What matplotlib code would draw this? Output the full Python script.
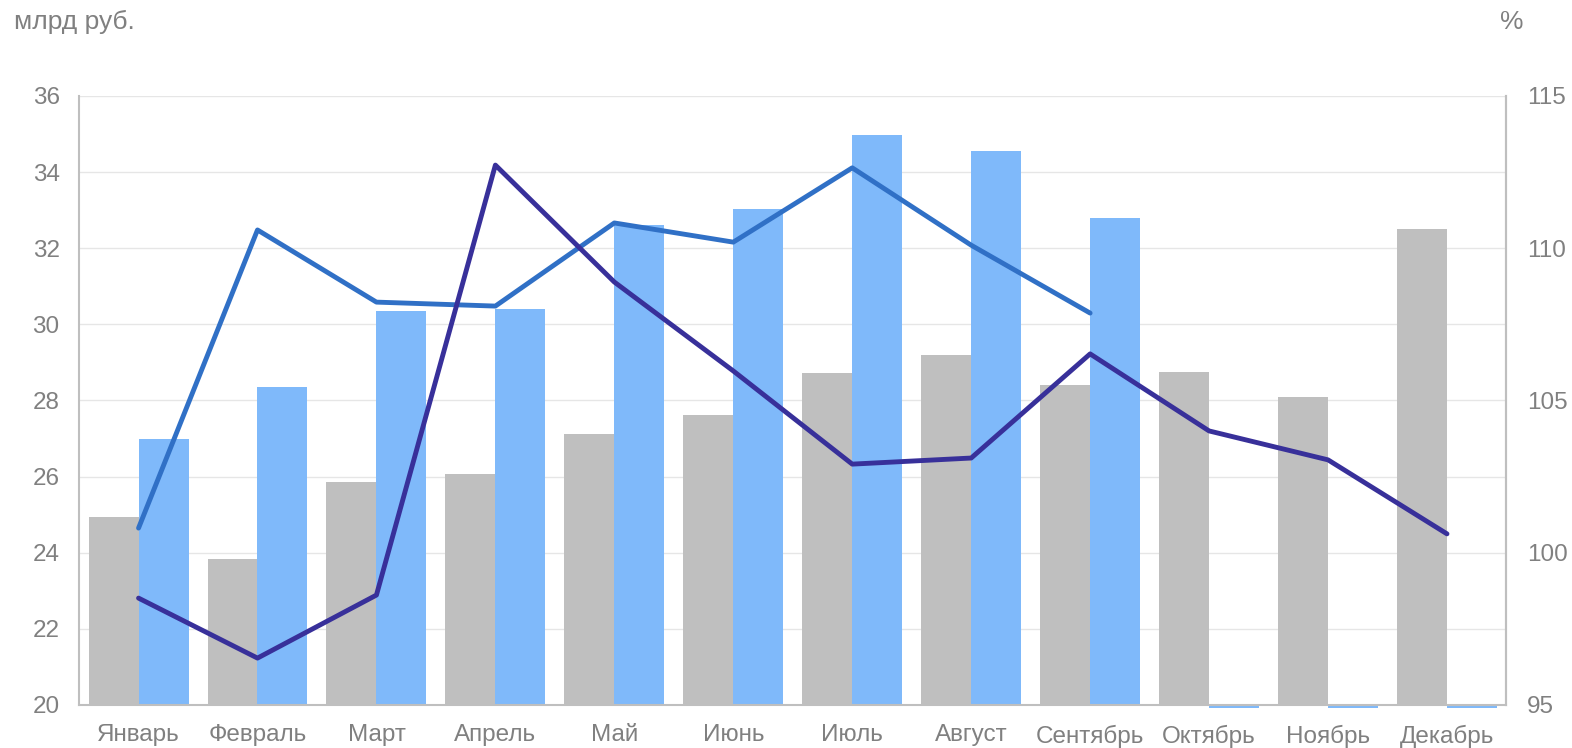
import matplotlib.pyplot as plt
import numpy as np

plt.rcParams['font.family'] = ['Liberation Sans', 'DejaVu Sans']

months = ["Январь", "Февраль", "Март", "Апрель", "Май", "Июнь", "Июль",
          "Август", "Сентябрь", "Октябрь", "Ноябрь", "Декабрь"]
# млрд руб.
gray_vals = [24.94, 23.84, 25.86, 26.07, 27.12, 27.62, 28.72, 29.20, 28.41, 28.75, 28.09, 32.51]
blue_vals = [26.99, 28.36, 30.35, 30.40, 32.61, 33.03, 34.98, 34.56, 32.80, 20.0, 20.0, 20.0]
# %
line_light = [100.81, 110.60, 108.23, 108.10, 110.83, 110.20, 112.64, 110.10, 107.87]
line_dark = [98.51, 96.54, 98.61, 112.73, 108.89, 105.97, 102.91, 103.11, 106.53, 104.00, 103.05, 100.62]

txt = "#808080"
fig = plt.figure(figsize=(15.72, 7.48), dpi=100)
ax = fig.add_axes([0.0503, 0.0575, 0.908, 0.8142])
x = np.arange(len(months))
w = 0.42
blue = np.array(blue_vals)
# empty months show as a thin strip just under the axis
base = np.where(blue <= 20, 19.93, 20)
ax.bar(x - w / 2, np.array(gray_vals) - 20, w, bottom=20, color="#BFBFBF", zorder=2)
ax.bar(x + w / 2, blue - base, w, bottom=base, color="#7FB9FA", zorder=2, clip_on=False)
ax.set_ylim(20, 36)
ax.set_xlim(-0.5, 11.5)
ax.set_yticks(range(20, 37, 2))
ax.set_xticks(x, months)
ax.grid(axis="y", color="#E6E6E6", linewidth=1, zorder=0)
ax.spines["top"].set_visible(False)
for s in ["left", "right", "bottom"]:
    ax.spines[s].set_color("#BFBFBF")
    ax.spines[s].set_linewidth(1.5)
ax.tick_params(length=0, labelsize=17.5, colors=txt, pad=14)
ax.tick_params(axis="x", pad=14)

ax2 = ax.twinx()
ax2.set_ylim(95, 115)
ax2.set_yticks(range(95, 116, 5))
ax2.plot(x[:len(line_light)], line_light, color="#3070C6", lw=3.5, solid_capstyle="round", zorder=3)
ax2.plot(x, line_dark, color="#38309A", lw=3.5, solid_capstyle="round", zorder=3)
for s in ["top", "left", "bottom"]:
    ax2.spines[s].set_visible(False)
ax2.spines["right"].set_color("#BFBFBF")
ax2.spines["right"].set_linewidth(1.5)
ax2.tick_params(length=0, labelsize=17.5, colors=txt, pad=15)

fig.text(0.009, 0.97, "млрд руб.", fontsize=19, color=txt, va="center", ha="left")
fig.text(0.9615, 0.97, "%", fontsize=19, color=txt, va="center", ha="center")

fig.savefig("out.png", dpi=100)
